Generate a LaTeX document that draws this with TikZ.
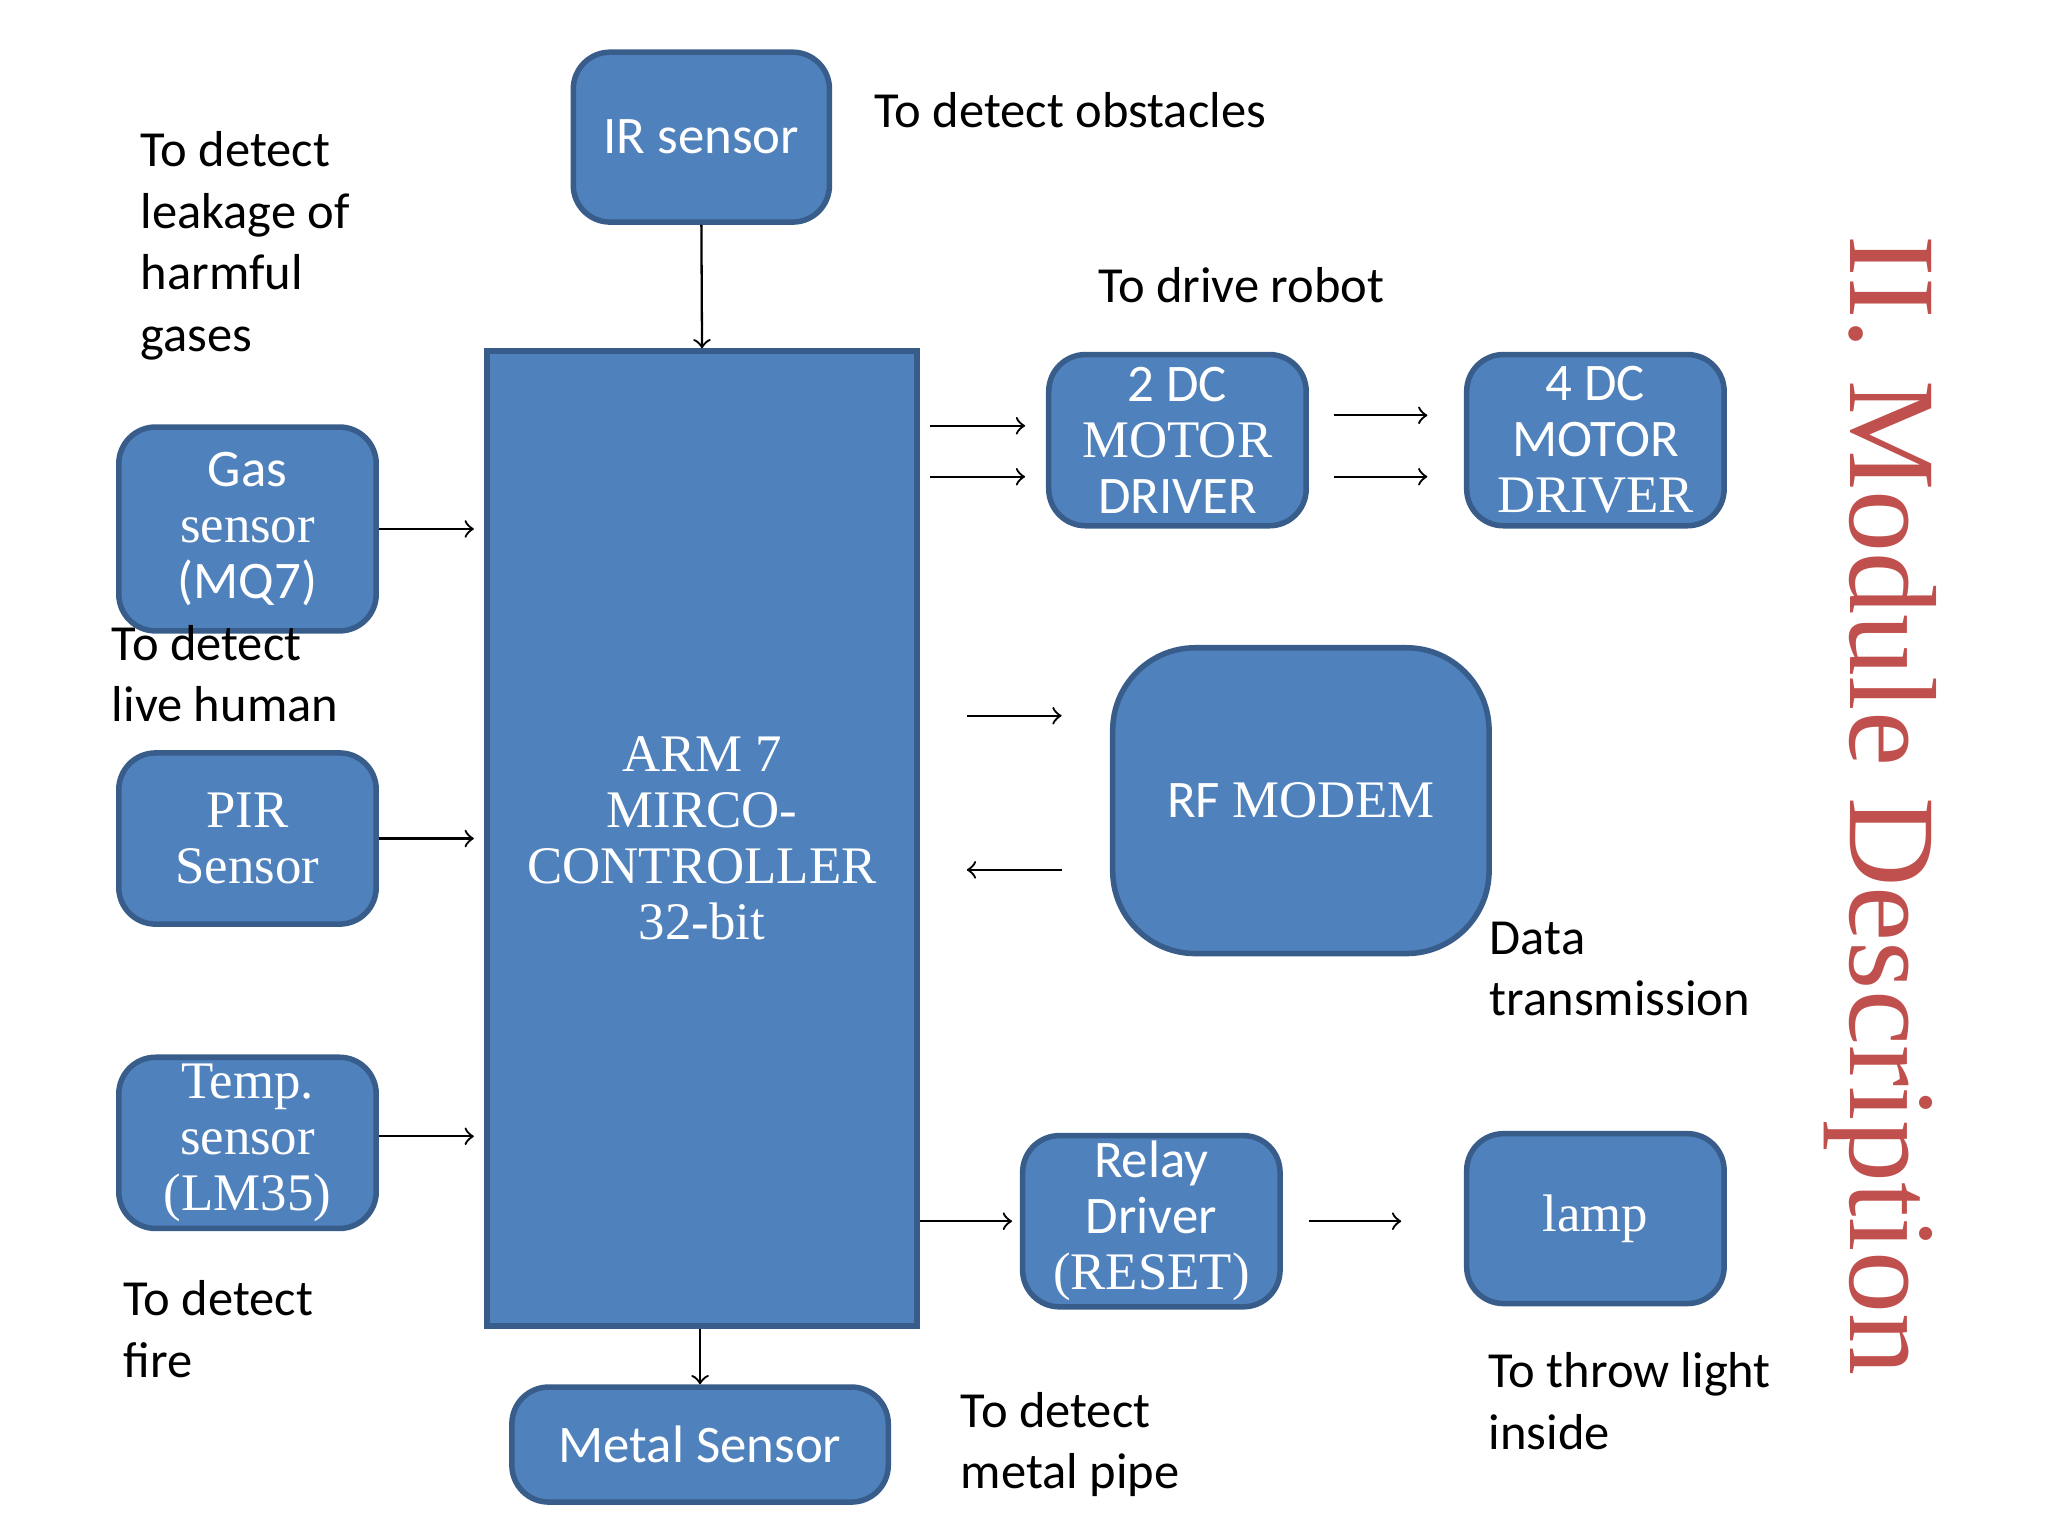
\documentclass[tikz,border=0pt]{standalone}
\usepackage{fontspec}
\setmainfont{Carlito}
\newfontfamily\srf{Liberation Serif}
\definecolor{boxfill}{HTML}{4F81BD}
\definecolor{boxline}{HTML}{385D8A}
\definecolor{titlered}{HTML}{C0504D}
\begin{document}
\begin{tikzpicture}[x=0.01cm,y=-0.01cm,
  blk/.style={draw=boxline,line width=1.2pt,fill=boxfill,rounded corners=8pt,
    text=white,align=center,inner sep=0pt,font=\fontsize{11.5}{12.2}\selectfont},
  note/.style={anchor=north west,align=left,inner sep=0pt,font=\fontsize{11}{13.4}\selectfont},
  arr/.style={->,>=to,line width=0.5pt}]
\useasboundingbox (0,0) rectangle (1568,1176);
% blocks
\node[blk,minimum width=196\pgflinewidth] (ir) at (537,105) [minimum width=1.96cm,minimum height=1.3cm] {IR sensor};
\node[blk,rounded corners=0pt,minimum width=3.29cm,minimum height=7.46cm] (arm) at (537.5,642)
  {\srf ARM 7\\\srf MIRCO-\\\srf CONTROLLER\\\srf 32-bit};
\node[blk,minimum width=1.97cm,minimum height=1.56cm] (gas) at (189.5,405) {Gas\\{\srf sensor}\\(MQ7)};
\node[blk,minimum width=1.97cm,minimum height=1.31cm] (pir) at (189.5,642) {\srf PIR\\\srf Sensor};
\node[blk,minimum width=1.97cm,minimum height=1.31cm] (temp) at (189.5,875) {\srf Temp.\\\srf sensor\\\srf (LM35)};
\node[blk,minimum width=1.97cm,minimum height=1.31cm] (dc2) at (901.5,337) {2 DC\\{\srf MOTOR}\\DRIVER};
\node[blk,minimum width=1.97cm,minimum height=1.31cm] (dc4) at (1221.5,337) {4 DC\\MOTOR\\{\srf DRIVER}};
\node[blk,rounded corners=18pt,minimum width=2.88cm,minimum height=2.34cm] (rf) at (996,613) {RF {\srf MODEM}};
\node[blk,minimum width=1.97cm,minimum height=1.31cm] (relay) at (881.5,935) {Relay\\Driver\\{\srf (RESET)}};
\node[blk,minimum width=1.97cm,minimum height=1.3cm] (lamp) at (1221.5,933) {\srf lamp};
\node[blk,minimum width=2.88cm,minimum height=0.88cm] (metal) at (536,1106) {Metal Sensor};
% connectors
\draw[arr] (ir.south) -- (arm.north);
\draw[arr] (metal.north |- arm.south) -- (metal.north);
\draw[arr] (gas.east) -- ([xshift=-0.08cm]arm.west |- gas.east);
\draw[arr] (pir.east) -- ([xshift=-0.08cm]arm.west |- pir.east);
\draw[arr] (temp.east |- 0,870) -- ([xshift=-0.08cm]arm.west |- 0,870);
\draw[arr] ([xshift=0.08cm]arm.east |- 0,326) -- ([xshift=-0.16cm]dc2.west |- 0,326);
\draw[arr] ([xshift=0.08cm]arm.east |- 0,365) -- ([xshift=-0.16cm]dc2.west |- 0,365);
\draw[arr] ([xshift=0.19cm]dc2.east |- 0,318) -- ([xshift=-0.28cm]dc4.west |- 0,318);
\draw[arr] ([xshift=0.19cm]dc2.east |- 0,365) -- ([xshift=-0.28cm]dc4.west |- 0,365);
\draw[arr] ([xshift=0.36cm]arm.east |- 0,548) -- ([xshift=-0.37cm]rf.west |- 0,548);
\draw[arr] ([xshift=-0.37cm]rf.west |- 0,666) -- ([xshift=0.36cm]arm.east |- 0,666);
\draw[arr] (arm.east |- relay.west) -- ([xshift=-0.06cm]relay.west);
\draw[arr] ([xshift=0.2cm]relay.east) -- ([xshift=-0.48cm]lamp.west |- relay.east);
% notes
\node[note] (n1) at (669,70) {To detect obstacles};
\node[note] (n2) at (107,100) {To detect\\leakage of\\harmful\\gases};
\node[note] (n3) at (840,204) {To drive robot};
\node[note] (n4) at (85,478) {To detect\\live human};
\node[note] (n5) at (1140,705) {Data\\transmission};
\node[note] (n6) at (94,980) {To detect\\fire};
\node[note] (n7) at (735,1065) {To detect\\metal pipe};
\node[note] (n8) at (1139,1035) {To throw light\\inside};
\node[rotate=-90,text=titlered,inner sep=0pt,font=\srf\fontsize{27}{30}\selectfont] (title) at (1440,617) {II. Module Description};
\end{tikzpicture}
\end{document}
